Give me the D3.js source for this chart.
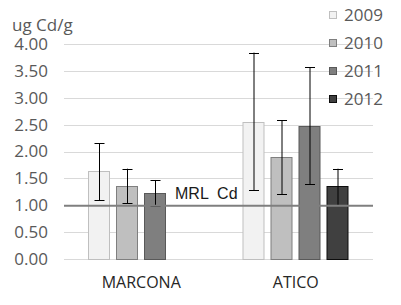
<!DOCTYPE html>
<html>
<head>
<meta charset="utf-8">
<script src="https://cdn.jsdelivr.net/npm/d3@7/dist/d3.min.js"></script>
<style>
    body { margin: 0; background: #fff; }
    svg { display: block; }
</style>
</head>
<body>
<div id="chart"></div>
<script>
// chart values
const categories = ["MARCONA", "ATICO"];
const years = ["2009", "2010", "2011", "2012"];
const means = {
    "MARCONA": [1.63, 1.35, 1.22, null],
    "ATICO":   [2.55, 1.89, 2.47, 1.35]
};
const errUp = {
    "MARCONA": [0.52, 0.33, 0.25, null],
    "ATICO":   [1.29, 0.69, 1.10, 0.33]
};
const errDown = {
    "MARCONA": [0.54, 0.31, 0.24, null],
    "ATICO":   [1.27, 0.69, 1.08, 0.35]
};
const yTicks = [0, 0.5, 1, 1.5, 2, 2.5, 3, 3.5, 4];
const mrlValue = 1.0;
const mrlLabel = "MRL  Cd";
const yTitle = "ug Cd/g";

const fills = ["#f2f2f2", "#bfbfbf", "#7f7f7f", "#404040"];
const strokes = ["#bfbfbf", "#7f7f7f", "#595959", "#0d0d0d"];

const chartWidth = 401, chartHeight = 305;
const plot = {left: 64, right: 373, top: 44, bottom: 259};

const svg = d3.select("#chart")
    .append("svg")
    .attr("width", chartWidth)
    .attr("height", chartHeight);

const yScale = d3.scaleLinear()
    .domain([0, 4])
    .range([plot.bottom, plot.top]);

const xScale = d3.scaleBand()
    .domain(categories)
    .range([plot.left, plot.right]);

const yearScale = d3.scaleBand()
    .domain(years)
    .range([24, 130])
    .paddingInner(6 / 28);

// gridlines
svg.append("g")
    .selectAll("line")
    .data(yTicks)
    .join("line")
    .attr("x1", plot.left)
    .attr("x2", plot.right)
    .attr("y1", d => Math.round(yScale(d)) + 0.5)
    .attr("y2", d => Math.round(yScale(d)) + 0.5)
    .attr("stroke", "#d9d9d9")
    .attr("stroke-width", 1);

// y axis labels
const yAxis = svg.append("g")
    .attr("transform", "translate(" + (plot.left - 16) + ",0)")
    .call(d3.axisLeft(yScale).tickValues(yTicks).tickFormat(d3.format(".2f")).tickSize(0).tickPadding(0));
yAxis.select(".domain").remove();
yAxis.selectAll("text")
    .attr("fill", "#595959")
    .style("font-family", "'Open Sans', sans-serif")
    .style("font-size", "17px");

svg.append("text")
    .attr("x", 12)
    .attr("y", 31)
    .attr("fill", "#595959")
    .style("font-family", "'Open Sans', sans-serif")
    .style("font-size", "17px")
    .text(yTitle);

// bars
const groups = svg.append("g")
    .selectAll("g")
    .data(categories)
    .join("g")
    .attr("transform", d => "translate(" + xScale(d) + ",0)");

const barData = c => years.map((y, i) => ({
    year: y, i: i, v: means[c][i], up: errUp[c][i], down: errDown[c][i]
})).filter(d => d.v !== null);

groups.selectAll("rect")
    .data(c => barData(c))
    .join("rect")
    .attr("x", d => Math.round(yearScale(d.year)) + 0.5)
    .attr("width", Math.round(yearScale.bandwidth()) - 1)
    .attr("y", d => Math.round(yScale(d.v)) + 0.5)
    .attr("height", d => Math.round(yScale(0)) - Math.round(yScale(d.v)))
    .attr("fill", d => fills[d.i])
    .attr("stroke", d => strokes[d.i])
    .attr("stroke-width", 1);

// MRL line
svg.append("line")
    .attr("x1", plot.left)
    .attr("x2", plot.right)
    .attr("y1", yScale(mrlValue) + 0.5)
    .attr("y2", yScale(mrlValue) + 0.5)
    .attr("stroke", "#7f7f7f")
    .attr("stroke-width", 2);

svg.append("text")
    .attr("x", xScale("MARCONA") + 111)
    .attr("y", yScale(mrlValue) - 6)
    .attr("fill", "#1a1a1a")
    .style("font-family", "'Liberation Sans', Arial, sans-serif")
    .style("font-size", "16px")
    .style("white-space", "pre")
    .text(mrlLabel);

// error bars
const errs = groups.selectAll("g.err")
    .data(c => barData(c))
    .join("g")
    .attr("class", "err")
    .attr("transform", d => "translate(" + (Math.round(yearScale(d.year) + yearScale.bandwidth() / 2) + 0.5) + ",0)");

errs.append("line")
    .attr("y1", d => yScale(d.v + d.up))
    .attr("y2", d => yScale(d.v - d.down))
    .attr("stroke", "#000")
    .attr("stroke-width", 1);

errs.selectAll("line.cap")
    .data(d => [d.v + d.up, d.v - d.down])
    .join("line")
    .attr("class", "cap")
    .attr("x1", -5)
    .attr("x2", 5)
    .attr("y1", d => Math.round(yScale(d)) + 0.5)
    .attr("y2", d => Math.round(yScale(d)) + 0.5)
    .attr("stroke", "#000")
    .attr("stroke-width", 1);

// category labels
svg.append("g")
    .selectAll("text")
    .data(categories)
    .join("text")
    .attr("x", d => xScale(d) + xScale.bandwidth() / 2)
    .attr("y", 288)
    .attr("text-anchor", "middle")
    .attr("fill", "#262626")
    .style("font-family", "'Open Sans', sans-serif")
    .style("font-size", "16px")
    .text(d => d);

// legend
const legend = svg.append("g")
    .selectAll("g")
    .data(years)
    .join("g")
    .attr("transform", (d, i) => "translate(329," + (15 + i * 28) + ")");

legend.append("rect")
    .attr("x", 0.5)
    .attr("y", -3.5)
    .attr("width", 7)
    .attr("height", 7)
    .attr("fill", (d, i) => fills[i])
    .attr("stroke", (d, i) => strokes[i]);

legend.append("text")
    .attr("x", 15)
    .attr("dy", "0.36em")
    .attr("fill", "#595959")
    .style("font-family", "'Open Sans', sans-serif")
    .style("font-size", "17px")
    .text(d => d);
</script>
</body>
</html>
